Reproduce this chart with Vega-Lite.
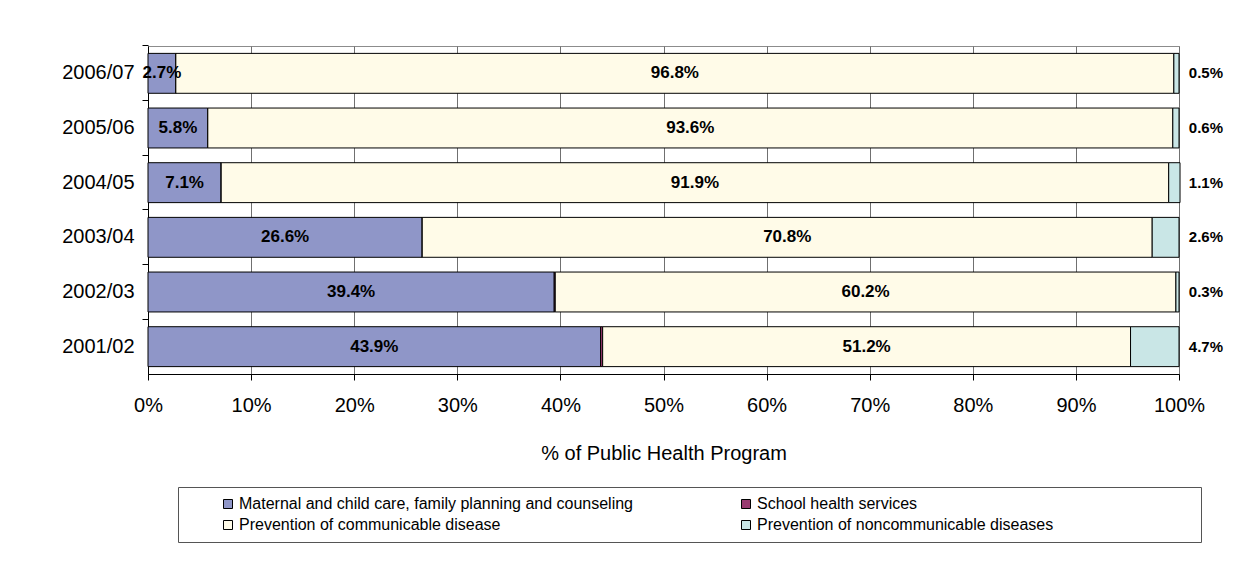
{
  "$schema": "https://vega.github.io/schema/vega-lite/v6.json",
  "width": 1031,
  "height": 328,
  "padding": {"left": 61, "top": 44, "right": 10, "bottom": 10},
  "background": "white",
  "config": {
    "font": "Liberation Sans",
    "view": {"stroke": "#8c8c8c", "strokeWidth": 1}
  },
  "data": {
    "values": [
      {"year": "2006/07", "cat": "Maternal and child care, family planning and counseling", "k": 1, "value": 0.027},
      {"year": "2006/07", "cat": "School health services", "k": 2, "value": 0.0},
      {"year": "2006/07", "cat": "Prevention of communicable disease", "k": 3, "value": 0.968},
      {"year": "2006/07", "cat": "Prevention of noncommunicable diseases", "k": 4, "value": 0.005},
      {"year": "2005/06", "cat": "Maternal and child care, family planning and counseling", "k": 1, "value": 0.058},
      {"year": "2005/06", "cat": "School health services", "k": 2, "value": 0.0},
      {"year": "2005/06", "cat": "Prevention of communicable disease", "k": 3, "value": 0.936},
      {"year": "2005/06", "cat": "Prevention of noncommunicable diseases", "k": 4, "value": 0.006},
      {"year": "2004/05", "cat": "Maternal and child care, family planning and counseling", "k": 1, "value": 0.071},
      {"year": "2004/05", "cat": "School health services", "k": 2, "value": 0.0},
      {"year": "2004/05", "cat": "Prevention of communicable disease", "k": 3, "value": 0.919},
      {"year": "2004/05", "cat": "Prevention of noncommunicable diseases", "k": 4, "value": 0.011},
      {"year": "2003/04", "cat": "Maternal and child care, family planning and counseling", "k": 1, "value": 0.266},
      {"year": "2003/04", "cat": "School health services", "k": 2, "value": 0.0},
      {"year": "2003/04", "cat": "Prevention of communicable disease", "k": 3, "value": 0.708},
      {"year": "2003/04", "cat": "Prevention of noncommunicable diseases", "k": 4, "value": 0.026},
      {"year": "2002/03", "cat": "Maternal and child care, family planning and counseling", "k": 1, "value": 0.394},
      {"year": "2002/03", "cat": "School health services", "k": 2, "value": 0.001},
      {"year": "2002/03", "cat": "Prevention of communicable disease", "k": 3, "value": 0.602},
      {"year": "2002/03", "cat": "Prevention of noncommunicable diseases", "k": 4, "value": 0.003},
      {"year": "2001/02", "cat": "Maternal and child care, family planning and counseling", "k": 1, "value": 0.439},
      {"year": "2001/02", "cat": "School health services", "k": 2, "value": 0.002},
      {"year": "2001/02", "cat": "Prevention of communicable disease", "k": 3, "value": 0.512},
      {"year": "2001/02", "cat": "Prevention of noncommunicable diseases", "k": 4, "value": 0.047}
    ]
  },
  "transform": [
    {"stack": "value", "groupby": ["year"], "sort": [{"field": "k", "order": "ascending"}], "as": ["v0", "v1"]}
  ],
  "encoding": {
    "y": {
      "field": "year",
      "type": "nominal",
      "sort": "descending",
      "scale": {"paddingInner": 0.27, "paddingOuter": 0.135},
      "axis": {
        "title": null,
        "labelFontSize": 20,
        "labelColor": "black",
        "labelPadding": 8,
        "tickSize": 6,
        "tickColor": "black",
        "domainColor": "black",
        "bandPosition": -0.185
      }
    }
  },
  "layer": [
    {
      "mark": {"type": "bar", "stroke": "black", "strokeWidth": 1},
      "encoding": {
        "x": {
          "field": "v0",
          "type": "quantitative",
          "scale": {"domain": [0, 1]},
          "axis": {
            "title": "% of Public Health Program",
            "titleFontSize": 20,
            "titleFontWeight": "normal",
            "titleColor": "black",
            "titlePadding": 28,
            "format": "%",
            "values": [0, 0.1, 0.2, 0.3, 0.4, 0.5, 0.6, 0.7, 0.8, 0.9, 1],
            "labelFlush": false,
            "labelOverlap": false,
            "labelFontSize": 20,
            "labelColor": "black",
            "labelPadding": 15,
            "tickSize": 6,
            "tickColor": "black",
            "domainColor": "black",
            "grid": true,
            "gridColor": "#707070",
            "gridWidth": 1
          }
        },
        "x2": {"field": "v1"},
        "color": {
          "field": "cat",
          "type": "nominal",
          "sort": ["Maternal and child care, family planning and counseling", "School health services", "Prevention of communicable disease", "Prevention of noncommunicable diseases"],
          "scale": {
            "domain": ["Maternal and child care, family planning and counseling", "School health services", "Prevention of communicable disease", "Prevention of noncommunicable diseases"],
            "range": ["#8f96c8", "#993a70", "#fffbe8", "#c9e6e6"]
          },
          "legend": {
            "orient": "none",
            "legendX": 30,
            "legendY": 441,
            "columns": 2,
            "direction": "horizontal",
            "title": " ",
            "titleOrient": "right",
            "titlePadding": 139,
            "titleFontSize": 14,
            "padding": 9,
            "strokeColor": "#555555",
            "fillColor": "white",
            "symbolType": "square",
            "symbolSize": 81,
            "symbolStrokeColor": "black",
            "symbolStrokeWidth": 1,
            "symbolOffset": 33,
            "labelOffset": 3,
            "labelFontSize": 16,
            "labelColor": "black",
            "labelLimit": 600,
            "rowPadding": 5,
            "columnPadding": 71
          }
        }
      }
    },
    {
      "transform": [
        {"filter": "datum.k == 1 || datum.k == 3"},
        {"fold": ["v0", "v1"], "as": ["edge", "pos"]},
        {"aggregate": [{"op": "mean", "field": "pos", "as": "mid"}], "groupby": ["year", "cat", "value"]}
      ],
      "mark": {"type": "text", "fontSize": 17, "fontWeight": "bold", "color": "black", "align": "center", "baseline": "middle"},
      "encoding": {
        "x": {"field": "mid", "type": "quantitative"},
        "text": {"field": "value", "type": "quantitative", "format": ".1%"}
      }
    },
    {
      "transform": [{"filter": "datum.k == 4"}],
      "mark": {"type": "text", "fontSize": 15, "fontWeight": "bold", "color": "black", "align": "right", "baseline": "middle", "dx": 44},
      "encoding": {
        "x": {"datum": 1, "type": "quantitative"},
        "text": {"field": "value", "type": "quantitative", "format": ".1%"}
      }
    }
  ]
}
